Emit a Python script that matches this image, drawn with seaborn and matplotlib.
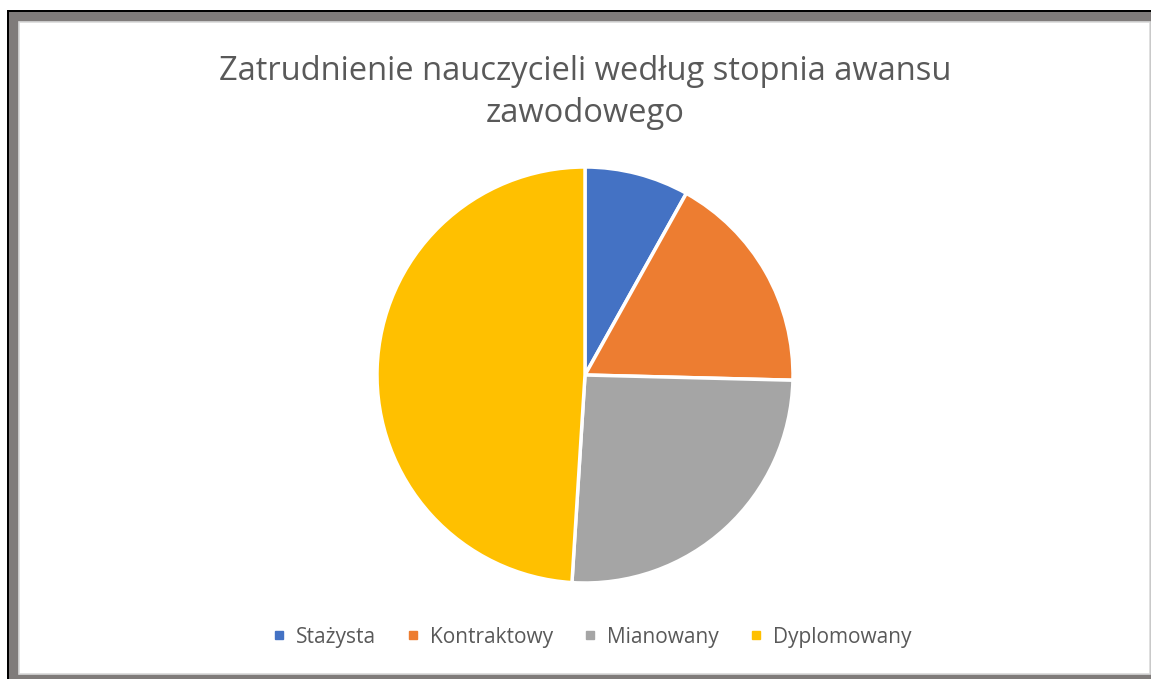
import matplotlib
matplotlib.use("Agg")
import matplotlib.pyplot as plt
import seaborn as sns
from matplotlib.patches import Rectangle
from matplotlib.lines import Line2D

# dane (udział w %)
kategorie = ["Stażysta", "Kontraktowy", "Mianowany", "Dyplomowany"]
udzial = [8.1, 17.3, 25.6, 49.0]
kolory = ["#4472C4", "#ED7D31", "#A5A5A5", "#FFC000"]

sns.set_theme(style="white")
plt.rcParams['font.family'] = ['Open Sans', 'DejaVu Sans']

W, H = 1151, 679
fig = plt.figure(figsize=(W / 100, H / 100), dpi=100)


def px(x, y, w, h):
    # prostokąt w pikselach (od góry) -> współrzędne figury
    return (x / W, 1 - (y + h) / H, w / W, h / H)


# ramka jak na zrzucie ekranu (pod osiami)
def prostokat(x, y, w, h, **kw):
    a, b, c, d = px(x, y, w, h)
    fig.patches.append(Rectangle((a, b), c, d, transform=fig.transFigure, zorder=-5, **kw))


prostokat(7, 10, 1144, 669, facecolor="#7f7b7a", edgecolor="none")
prostokat(7, 10, 1144, 1.5, facecolor="black", edgecolor="none")
prostokat(7, 10, 1.5, 669, facecolor="black", edgecolor="none")
prostokat(19, 22, 1131, 652, facecolor="white", edgecolor="#d9d9d9", linewidth=1.2)

# wykres kołowy
cx, cy, r = 585, 375, 208
ax = fig.add_axes(px(cx - r, cy - r, 2 * r, 2 * r))
ax.patch.set_alpha(0)
ax.pie(udzial, colors=kolory, startangle=90, counterclock=False,
       wedgeprops=dict(edgecolor="white", linewidth=2.5))
ax.set_xlim(-1.0, 1.0)
ax.set_ylim(-1.0, 1.0)
ax.set_axis_off()

# tytuł
fig.text(585 / W, 1 - 72 / H, "Zatrudnienie nauczycieli według stopnia awansu",
         ha="center", va="center", fontsize=23.5, color="#595959")
fig.text(585 / W, 1 - 113 / H, "zawodowego",
         ha="center", va="center", fontsize=23.5, color="#595959")

# legenda
uchwyty = [Line2D([0], [0], marker="s", linestyle="none", markersize=5.5,
                  markerfacecolor=k, markeredgecolor=k) for k in kolory]
fig.legend(uchwyty, kategorie, loc="center", bbox_to_anchor=(592 / W, 1 - 637 / H),
           ncol=4, frameon=False, fontsize=15, handlelength=0.6, handletextpad=0.5,
           columnspacing=1.5, labelcolor="#595959")

fig.savefig("out.png", dpi=100, facecolor="white")
